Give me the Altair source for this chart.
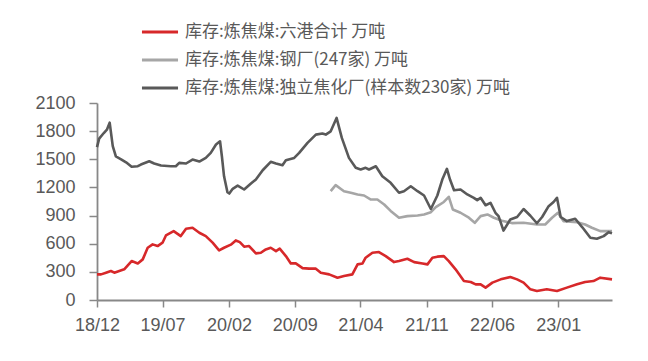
import altair as alt
import pandas as pd

# 库存:炼焦煤:六港合计 万吨
port_dates = ["2018-12-01","2018-12-14","2018-12-30","2019-01-15","2019-01-26","2019-02-11","2019-02-27",
              "2019-03-23","2019-04-12","2019-04-28","2019-05-14","2019-05-30","2019-06-15","2019-07-01",
              "2019-07-12","2019-08-06","2019-08-29","2019-09-15","2019-10-06","2019-10-28","2019-11-18",
              "2019-12-10","2019-12-31","2020-01-16","2020-02-07","2020-02-23","2020-03-07","2020-03-21",
              "2020-04-06","2020-04-28","2020-05-14","2020-05-30","2020-06-15","2020-07-02","2020-07-14",
              "2020-08-03","2020-08-19","2020-09-04","2020-09-26","2020-10-17","2020-11-08","2020-11-24",
              "2020-12-21","2021-01-17","2021-02-07","2021-03-06","2021-03-23","2021-04-08","2021-04-18",
              "2021-05-10","2021-05-31","2021-06-22","2021-07-19","2021-08-04","2021-08-31","2021-09-22",
              "2021-10-19","2021-11-04","2021-11-20","2021-12-06","2021-12-27","2022-01-12","2022-02-03",
              "2022-03-02","2022-03-24","2022-04-09","2022-04-25","2022-05-11","2022-06-02","2022-06-29",
              "2022-07-30","2022-08-21","2022-09-11","2022-10-03","2022-10-24","2022-11-25","2022-12-28",
              "2023-01-29","2023-03-03","2023-03-29","2023-04-25","2023-05-17","2023-06-24"]
port_vals = [273,273,291,309,291,309,327,
             415,390,433,557,593,575,611,
             688,734,681,760,770,717,681,
             611,529,557,590,635,617,568,
             575,497,504,539,557,521,547,
             468,390,390,340,334,334,291,
             273,238,255,273,380,390,451,
             504,511,468,404,415,440,404,
             390,380,451,462,468,415,327,
             202,192,167,167,132,185,220,
             245,220,185,114,96,114,96,
             132,167,192,202,238,220]

# 库存:炼焦煤:钢厂(247家) 万吨
mill_dates = ["2020-12-26","2021-01-11","2021-02-07","2021-03-01","2021-03-23","2021-04-13","2021-05-05",
              "2021-05-26","2021-06-17","2021-07-08","2021-08-04","2021-08-31","2021-10-03","2021-10-24",
              "2021-11-15","2021-12-01","2021-12-27","2022-01-12","2022-01-25","2022-02-19","2022-03-18",
              "2022-04-06","2022-04-25","2022-05-17","2022-06-07","2022-07-03","2022-08-04","2022-09-11",
              "2022-10-24","2022-11-20","2022-12-12","2022-12-31","2023-01-18","2023-03-03","2023-03-29",
              "2023-04-20","2023-05-17","2023-06-24"]
mill_vals = [1160,1224,1160,1143,1125,1114,1071,
             1071,1018,950,877,894,901,912,
             936,990,1045,1100,965,930,877,
             823,894,912,877,845,820,823,
             805,805,877,930,841,830,805,
             770,734,734]

# 库存:炼焦煤:独立焦化厂(样本数230家) 万吨
coke_dates = ["2018-12-01","2018-12-08","2018-12-23","2019-01-02","2019-01-11","2019-01-21","2019-01-31",
              "2019-02-17","2019-03-05","2019-03-23","2019-04-12","2019-04-22","2019-05-19","2019-06-04",
              "2019-06-26","2019-07-28","2019-08-13","2019-08-24","2019-09-15","2019-10-06","2019-10-28",
              "2019-11-18","2019-12-04","2019-12-21","2020-01-03","2020-01-09","2020-01-16","2020-01-27",
              "2020-02-02","2020-02-13","2020-02-29","2020-03-21","2020-04-12","2020-04-28","2020-05-20",
              "2020-06-15","2020-07-02","2020-07-23","2020-08-03","2020-08-30","2020-09-15","2020-10-12",
              "2020-11-08","2020-11-29","2020-12-10","2020-12-26","2021-01-14","2021-01-31","2021-02-23",
              "2021-03-17","2021-04-02","2021-04-18","2021-04-29","2021-05-21","2021-06-11","2021-07-08",
              "2021-08-04","2021-08-20","2021-09-11","2021-10-03","2021-10-24","2021-11-15","2021-12-06",
              "2021-12-22","2022-01-06","2022-01-16","2022-01-29","2022-02-19","2022-03-13","2022-04-03",
              "2022-04-14","2022-04-25","2022-05-11","2022-05-27","2022-06-12","2022-06-22","2022-07-08",
              "2022-07-30","2022-08-21","2022-09-11","2022-10-03","2022-10-24","2022-11-10","2022-12-01",
              "2022-12-17","2022-12-28","2023-01-09","2023-01-29","2023-02-25","2023-03-20","2023-04-15",
              "2023-05-06","2023-05-28","2023-06-13","2023-06-24"]
coke_vals = [1630,1720,1780,1816,1890,1640,1530,
             1500,1468,1420,1426,1444,1479,1455,
             1433,1426,1426,1462,1455,1497,1476,
             1515,1568,1657,1692,1532,1319,1149,
             1135,1185,1220,1178,1242,1284,1383,
             1473,1455,1437,1490,1515,1568,1675,
             1763,1774,1763,1798,1941,1728,1515,
             1409,1391,1409,1391,1426,1319,1249,
             1143,1160,1213,1160,1114,970,1114,
             1284,1398,1284,1170,1178,1125,1089,
             1064,1089,1010,1036,930,894,740,
             859,885,970,898,818,885,1000,
             1045,1089,885,841,866,775,664,
             653,681,723,710]

series_names = ["库存:炼焦煤:六港合计 万吨",
                "库存:炼焦煤:钢厂(247家) 万吨",
                "库存:炼焦煤:独立焦化厂(样本数230家) 万吨"]
series_colors = ["#d7282a", "#a6a6a6", "#595959"]
y_ticks = [0, 300, 600, 900, 1200, 1500, 1800, 2100]
x_ticks = [(2018, 12), (2019, 7), (2020, 2), (2020, 9), (2021, 4), (2021, 11), (2022, 6), (2023, 1)]

frames = []
for name, d, v in [(series_names[0], port_dates, port_vals),
                   (series_names[1], mill_dates, mill_vals),
                   (series_names[2], coke_dates, coke_vals)]:
    frames.append(pd.DataFrame({"date": pd.to_datetime(d), "value": v, "series": name}))
df = pd.concat(frames, ignore_index=True)

FONT = "Liberation Sans"
CJK = "Noto Sans CJK SC"

chart = alt.Chart(df).mark_line(strokeWidth=2.6, strokeJoin="round").encode(
    x=alt.X("date:T",
            scale=alt.Scale(domain=[alt.DateTime(year=2018, month=12, date=1),
                                    alt.DateTime(year=2023, month=6, date=24)]),
            axis=alt.Axis(title=None, format="%y/%m", grid=False,
                          values=[alt.DateTime(year=y, month=m, date=1) for y, m in x_ticks],
                          labelFont=FONT, labelFontSize=18, labelColor="#595959",
                          labelPadding=9, tickSize=7, tickColor="#888888", tickWidth=1.5,
                          domainColor="#888888", domainWidth=1.8, labelFlush=False)),
    y=alt.Y("value:Q",
            scale=alt.Scale(domain=[0, 2100], nice=False),
            axis=alt.Axis(title=None, grid=False, values=y_ticks, format="d",
                          labelFont=FONT, labelFontSize=18, labelColor="#595959",
                          labelPadding=14, tickSize=8, tickColor="#888888", tickWidth=1.5,
                          domainColor="#888888", domainWidth=1.8)),
    color=alt.Color("series:N",
                    scale=alt.Scale(domain=series_names, range=series_colors),
                    legend=alt.Legend(title=None, orient="none", legendX=43, legendY=-91,
                                      direction="vertical", symbolType="stroke",
                                      symbolSize=1300, symbolStrokeWidth=3,
                                      labelFont=CJK, labelFontSize=17, labelColor="#595959",
                                      labelOffset=5, rowPadding=0, labelLimit=500)),
    detail="series:N",
).properties(
    width=515, height=197,
    autosize=alt.AutoSizeParams(type="none"),
    padding={"left": 89, "top": 95, "right": 20, "bottom": 45},
).configure_view(stroke=None)

chart.save("out.html", embed_options={"renderer": "svg", "actions": False})
